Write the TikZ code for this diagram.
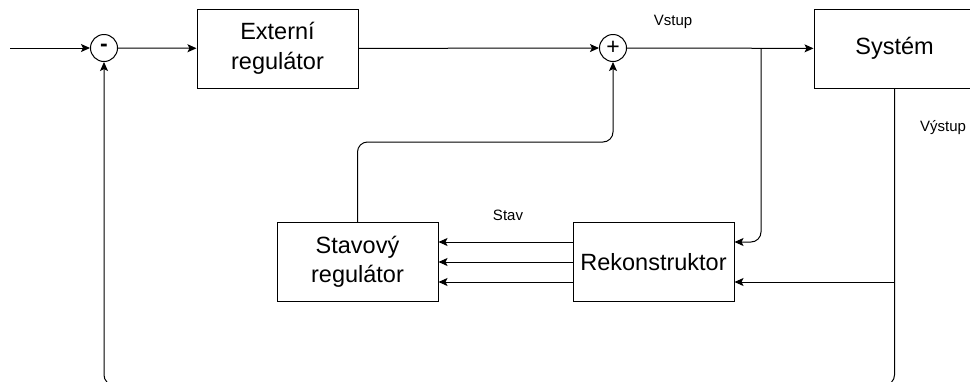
\documentclass[tikz,border=0pt]{standalone}
\usepackage{fontspec}
\setmainfont{Liberation Sans}
\usetikzlibrary{arrows.meta}

\tikzset{
 blok/.style={draw,line width=1pt,minimum width=161pt,minimum height=79pt,align=center,
  font=\fontsize{23.5}{29.5}\selectfont},
 soucet/.style={draw,circle,line width=1pt,minimum size=27pt,inner sep=0pt,
  font=\fontsize{23}{23}\selectfont},
 popis/.style={font=\fontsize{15}{18}\selectfont},
 sipka/.style={line width=1pt,-{Stealth[length=9pt,width=8pt,inset=2pt]}},
 cara/.style={line width=1pt,rounded corners=10pt}
}

\begin{document}
\begin{tikzpicture}[x=1pt,y=-1pt]
 \useasboundingbox (0,0) rectangle (970,381);
 % bloky
 \node[blok] (ext) at (277.5,48.5) {Externí\\regulátor};
 \node[blok] (sys) at (894.5,48.5) {Systém};
 \node[blok] (stav) at (357.5,262) {Stavový\\regulátor};
 \node[blok] (rek) at (653.5,262) {Rekonstruktor};
 \node[soucet] (minus) at (104,48) {\textbf{-}};
 \node[soucet] (plus) at (613,48) {+};
 \coordinate (vstup) at (10,48);
 % popisky
 \node[popis] (lvstup) at (673,22) {Vstup};
 \node[popis] (lstav) at (508,215) {Stav};
 \node[popis] (lvystup) at (943,128) {Výstup};
 % hlavni vetev
 \draw[sipka] (vstup) -- (minus);
 \draw[sipka] (minus) -- (ext);
 \draw[sipka] (ext) -- (plus);
 \draw[sipka] (plus) -- (sys);
 \coordinate (odb) at (761,48);
 \draw[sipka,cara] (odb) |- ([yshift=20pt]rek.east);
 % stav
 \foreach \d in {-20,0,20}
  \draw[sipka] ([yshift=\d pt]rek.west) -- ([yshift=\d pt]stav.east);
 \draw[sipka,cara] (stav.north) |- (485,142) -| (plus.south);
 % vystup
 \coordinate (odb2) at (894.5,282);
 \draw[sipka] (odb2) -- ([yshift=-20pt]rek.east);
 \draw[sipka,cara] (sys.south) -- (894.5,385) -| (minus.south);
\end{tikzpicture}
\end{document}
